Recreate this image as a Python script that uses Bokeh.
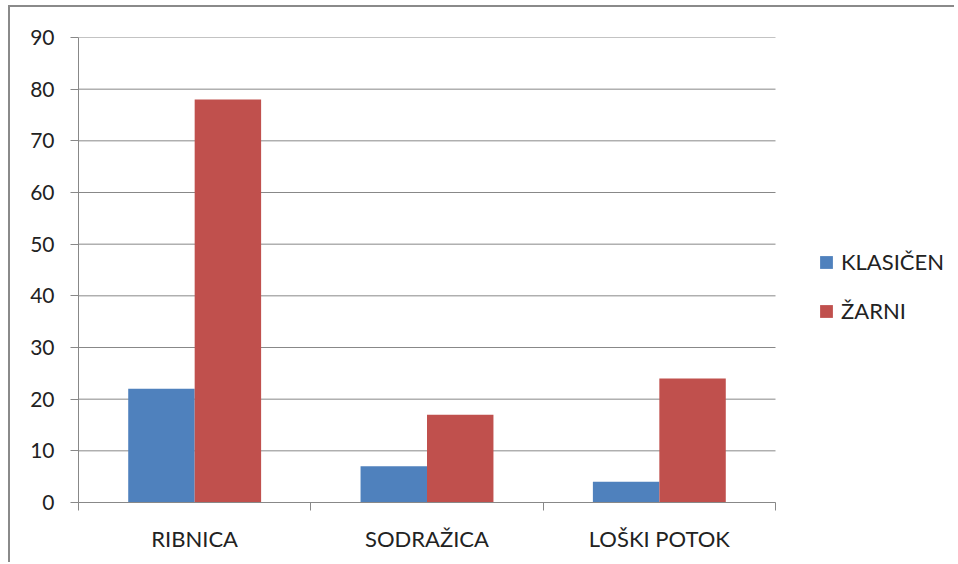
from bokeh.plotting import figure
from bokeh.models import (ColumnDataSource, Range1d, FixedTicker, Legend, LegendItem)
from bokeh.transform import dodge
from bokeh.embed import file_html
from bokeh.resources import INLINE

categories = ["RIBNICA", "SODRAŽICA", "LOŠKI POTOK"]
klasicen = [22, 7, 4]
zarni = [78, 17, 24]
series_names = ["KLASIČEN", "ŽARNI"]
y_ticks = [0, 10, 20, 30, 40, 50, 60, 70, 80, 90]

FONT = "Lato"
TXT = "#222222"
GRID = "#888888"

n = len(categories)
xc = [i + 0.5 for i in range(n)]
src = ColumnDataSource(dict(x=xc, cat=categories, k=klasicen, z=zarni))

# plot area spans 78..948 px; categories occupy 78..775 px
x_end = n * 870 / 697
p = figure(width=946, height=557, output_backend="svg", toolbar_location=None,
           x_range=Range1d(0, x_end), y_range=Range1d(0, 90),
           min_border_left=68, min_border_right=8, min_border_top=30, min_border_bottom=62)
p.styles = {"border-left": "2px solid #8a8a8a", "border-top": "2px solid #8a8a8a",
            "margin-left": "8px", "margin-top": "5px"}
p.outline_line_color = None
p.background_fill_color = "white"
p.border_fill_color = "white"

# horizontal grid lines limited to the category area
p.segment(x0=[0] * len(y_ticks), x1=[n] * len(y_ticks), y0=y_ticks, y1=y_ticks,
          line_color=GRID, line_width=1)

r1 = p.vbar(x=dodge("x", -0.143), top="k", width=0.286, source=src,
            fill_color="#4F81BD", line_color=None)
r2 = p.vbar(x=dodge("x", 0.143), top="z", width=0.286, source=src,
            fill_color="#C0504D", line_color=None)

# y axis
p.yaxis.ticker = FixedTicker(ticks=y_ticks)
p.yaxis.axis_line_color = GRID
p.yaxis.major_tick_line_color = GRID
p.yaxis.major_tick_in = 0
p.yaxis.major_tick_out = 8
p.yaxis.minor_tick_line_color = None
p.yaxis.major_label_text_font = FONT
p.yaxis.major_label_text_font_size = "21px"
p.yaxis.major_label_text_color = TXT
p.yaxis.major_label_standoff = 16

# x axis
p.xaxis.ticker = FixedTicker(ticks=xc, minor_ticks=list(range(n + 1)))
p.xaxis.bounds = (0, n)
p.xaxis.major_label_overrides = {x: c for x, c in zip(xc, categories)}
p.xaxis.axis_line_color = GRID
p.xaxis.major_tick_line_color = None
p.xaxis.major_tick_in = 0
p.xaxis.major_tick_out = 0
p.xaxis.minor_tick_line_color = GRID
p.xaxis.minor_tick_in = 0
p.xaxis.minor_tick_out = 8
p.xaxis.major_label_text_font = FONT
p.xaxis.major_label_text_font_size = "22px"
p.xaxis.major_label_text_color = TXT
p.xaxis.major_label_standoff = 14

p.xgrid.grid_line_color = None
p.ygrid.grid_line_color = None

legend = Legend(items=[LegendItem(label=series_names[0], renderers=[r1]),
                       LegendItem(label=series_names[1], renderers=[r2])],
                location=(740, 178))
legend.border_line_color = None
legend.background_fill_alpha = 0
legend.padding = 0
legend.margin = 0
legend.glyph_width = 16
legend.glyph_height = 16
legend.label_standoff = 7
legend.spacing = 22
legend.label_text_font = FONT
legend.label_text_font_size = "22px"
legend.label_text_color = TXT
p.add_layout(legend, "center")

open("out.html", "w").write(file_html(p, INLINE))
